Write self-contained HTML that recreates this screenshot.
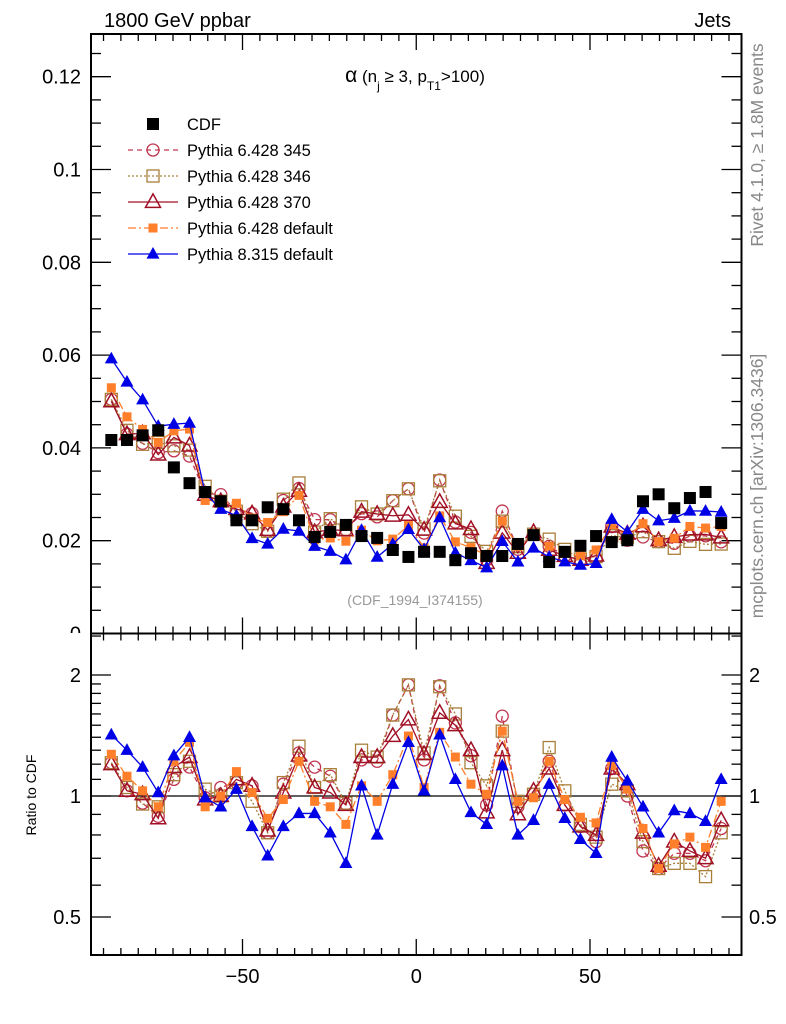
<!DOCTYPE html>
<html><head><meta charset="utf-8"><style>
body{margin:0;background:#fff;}
svg{display:block;font-family:"Liberation Sans",sans-serif;}
</style></head><body>
<svg id="chart" width="786" height="1024" viewBox="0 0 786 1024">
<defs>
<clipPath id="clipMain"><rect x="91" y="34" width="650" height="600"/></clipPath>
<clipPath id="clipRatio"><rect x="91" y="634" width="650" height="321"/></clipPath>
<clipPath id="clipLabels"><rect x="0" y="0" width="91" height="633"/></clipPath>
</defs>
<g id="axes"></g>
<g id="series"></g>
<text x="104" y="27" font-size="20">1800 GeV ppbar</text>
<text x="731" y="27" font-size="20" text-anchor="end">Jets</text>
<text x="415" y="82" font-size="17" text-anchor="middle"><tspan font-size="21">α</tspan> (n<tspan font-size="12" dy="8">j</tspan><tspan dy="-8"> ≥ 3, p</tspan><tspan font-size="12" dy="8">T1</tspan><tspan dy="-8">&gt;100)</tspan></text>
<text x="415" y="605" font-size="14" fill="#999" text-anchor="middle">(CDF_1994_I374155)</text>
<text transform="translate(763,145) rotate(-90)" font-size="17.5" fill="#888" text-anchor="middle">Rivet 4.1.0, ≥ 1.8M events</text>
<text transform="translate(763,486) rotate(-90)" font-size="17.5" fill="#888" text-anchor="middle">mcplots.cern.ch [arXiv:1306.3436]</text>
<text transform="translate(36,795) rotate(-90)" font-size="14" text-anchor="middle">Ratio to CDF</text>
<g id="legend"></g>
</svg>
<script>
const xCenters = [-87.75,-83.25,-78.75,-74.25,-69.75,-65.25,-60.75,-56.25,-51.75,-47.25,-42.75,-38.25,-33.75,-29.25,-24.75,-20.25,-15.75,-11.25,-6.75,-2.25,2.25,6.75,11.25,15.75,20.25,24.75,29.25,33.75,38.25,42.75,47.25,51.75,56.25,60.75,65.25,69.75,74.25,78.75,83.25,87.75];
const cdfValues = [.0417,.0417,.0427,.0438,.0358,.0324,.0305,.0285,.0244,.0244,.0272,.0268,.0244,.0208,.0219,.0234,.0210,.0206,.0180,.0165,.0176,.0176,.0158,.0173,.0167,.0167,.0193,.0212,.0154,.0176,.0189,.0210,.0197,.0201,.0285,.0300,.0270,.0292,.0305,.0238];
const ratio345 = [1.21,1.03,.96,.89,1.10,1.18,.99,1.05,1.08,1.06,.81,1.07,1.28,1.18,1.12,.955,1.23,1.22,1.59,1.89,1.23,1.88,1.52,1.26,.95,1.58,.94,1.01,1.22,.95,.84,.77,1.17,1.0,.73,.66,.72,.72,.69,.83];
const ratio346 = [1.21,1.05,.955,.94,1.13,1.22,1.04,1.0,1.08,.97,.81,1.08,1.33,1.05,1.13,.96,1.30,1.25,1.59,1.89,1.28,1.87,1.60,1.21,1.06,1.45,.97,1.01,1.32,1.03,.85,.79,1.07,1.03,.77,.66,.68,.68,.63,.81];
const ratio370 = [1.20,1.03,1.01,.88,1.18,1.25,.98,1.0,1.10,1.06,.82,1.02,1.26,1.05,1.02,.95,1.25,1.25,1.41,1.55,1.27,1.61,1.50,1.30,.91,1.30,.90,1.03,1.17,.95,.84,.80,1.17,1.07,.81,.67,.77,.73,.70,.87];
const ratioP6def = [1.27,1.12,1.03,.94,1.22,1.36,.94,1.0,1.15,1.02,.88,.98,1.22,.97,.94,.85,1.06,.97,1.13,1.41,1.05,1.44,1.25,1.07,1.01,1.45,.97,.99,1.22,.98,.885,.857,1.19,1.04,.83,.66,.76,.79,.745,.97];
const ratioP8def = [1.42,1.30,1.18,1.02,1.26,1.40,.99,.94,1.04,.84,.71,.84,.905,.905,.81,.68,1.06,.80,1.07,1.36,1.03,1.42,1.10,.91,.85,1.19,.80,.87,1.07,.88,.78,.72,1.25,1.09,.94,.81,.92,.905,.865,1.10];
const mainTicks = [0,0.02,0.04,0.06,0.08,0.1,0.12];
const mainTickLabels = ["0","0.02","0.04","0.06","0.08","0.1","0.12"];
const ratioTicks = [0.5,1,2];
const ratioTickLabels = ["0.5","1","2"];
const xTicks = [-50,0,50];
const xTickLabels = ["\u221250","0","50"];

const NS="http://www.w3.org/2000/svg";
const L=91,R=741.5,T=34,MB=633.5,RB=955;
const X0=-93.6,X1=93.6;
const xs=v=>L+(v-X0)/(X1-X0)*(R-L);
const ym=v=>MB-v*4640;
const yr=v=>796-Math.log2(v)*121;
function mk(tag,attrs,parent){const e=document.createElementNS(NS,tag);for(const k in attrs)e.setAttribute(k,attrs[k]);parent.appendChild(e);return e;}
const ax=document.getElementById('axes');
let f1=mk('rect',{x:L,y:T,width:R-L,height:MB-T,fill:'none',stroke:'#000','stroke-width':2},ax);


let f2=mk('rect',{x:L,y:MB,width:R-L,height:RB-MB,fill:'none',stroke:'#000','stroke-width':2},ax);


for(let v=-90;v<=90;v+=5){const major=v%50===0;const len=major?16:7;const x=xs(v);
 mk('line',{x1:x,x2:x,y1:RB,y2:RB-len,stroke:'#000','stroke-width':1.3},ax);
 mk('line',{x1:x,x2:x,y1:T,y2:T+len,stroke:'#000','stroke-width':1.3},ax);
 mk('line',{x1:x,x2:x,y1:MB,y2:MB-len,stroke:'#000','stroke-width':1.3},ax);
 mk('line',{x1:x,x2:x,y1:MB,y2:MB+len,stroke:'#000','stroke-width':1.3},ax);}
xTicks.forEach((v,i)=>{const t=mk('text',{x:xs(v),y:983,'font-size':20,'text-anchor':'middle'},ax);t.textContent=xTickLabels[i];
 
 });
for(let k=0;k<=25;k++){const v=k*0.005;const y=ym(v);if(y<T)break;const major=k%4===0;const len=major?20:10;
 mk('line',{x1:L,x2:L+len,y1:y,y2:y,stroke:'#000','stroke-width':1.3},ax);
 mk('line',{x1:R,x2:R-len,y1:y,y2:y,stroke:'#000','stroke-width':1.3},ax);}
const lblG=mk('g',{'clip-path':'url(#clipLabels)'},ax);
mainTicks.forEach((v,i)=>{const t=mk('text',{x:81,y:ym(v)+7,'font-size':20,'text-anchor':'end'},lblG);t.textContent=mainTickLabels[i];
 
 });
[0.5,0.6,0.7,0.8,0.9,1,1.1,1.2,1.3,1.4,1.5,1.6,1.7,1.8,1.9,2,2.5].forEach(v=>{const y=yr(v);if(y<MB||y>RB)return;const major=(v===0.5||v===1||v===2);const len=major?20:10;
 mk('line',{x1:L,x2:L+len,y1:y,y2:y,stroke:'#000','stroke-width':1.3},ax);
 mk('line',{x1:R,x2:R-len,y1:y,y2:y,stroke:'#000','stroke-width':1.3},ax);});
ratioTicks.forEach((v,i)=>{const t=mk('text',{x:81,y:yr(v)+7,'font-size':20,'text-anchor':'end'},ax);t.textContent=ratioTickLabels[i];
 
 
 const t2=mk('text',{x:749,y:yr(v)+7,'font-size':20},ax);t2.textContent=ratioTickLabels[i];
 
 });
const one=mk('line',{x1:L,x2:R,y1:yr(1),y2:yr(1),stroke:'#000','stroke-width':1.3},ax);



function marker(g,kind,x,y,color,s){
 if(kind==='fsq')return mk('rect',{x:x-s/2,y:y-s/2,width:s,height:s,fill:color},g);
 if(kind==='osq')return mk('rect',{x:x-s/2,y:y-s/2,width:s,height:s,fill:'none',stroke:color,'stroke-width':1.3},g);
 if(kind==='circ')return mk('circle',{cx:x,cy:y,r:s/2,fill:'none',stroke:color,'stroke-width':1.3},g);
 const h=s*0.9;const pts=`${x},${y-h*0.6} ${x-s/2},${y+h*0.4} ${x+s/2},${y+h*0.4}`;
 if(kind==='otri')return mk('polygon',{points:pts,fill:'none',stroke:color,'stroke-width':1.5},g);
 return mk('polygon',{points:pts,fill:color},g);}

const series=[
 {name:'pythia-6428-345',label:'Pythia 6.428 345',r:ratio345,color:'#c0364f',dash:'5,4',kind:'circ',s:12},
 {name:'pythia-6428-346',label:'Pythia 6.428 346',r:ratio346,color:'#a8803a',dash:'2,2',kind:'osq',s:12},
 {name:'pythia-6428-370',label:'Pythia 6.428 370',r:ratio370,color:'#a01025',dash:'',kind:'otri',s:15},
 {name:'pythia-6428-default',label:'Pythia 6.428 default',r:ratioP6def,color:'#ff7f2a',dash:'8,3,2,3',kind:'fsq',s:9},
 {name:'pythia-8315-default',label:'Pythia 8.315 default',r:ratioP8def,color:'#0000e6',dash:'',kind:'ftri',s:13}];
const sg=document.getElementById('series');
series.forEach(S=>{
 const gm=mk('g',{'clip-path':'url(#clipMain)'},sg);
 
 
 const gr=mk('g',{'clip-path':'url(#clipRatio)'},sg);
 
 
 const vals=S.r.map((r,i)=>r*cdfValues[i]);
 const pm=xCenters.map((x,i)=>xs(x)+','+ym(vals[i])).join(' ');
 const pr=xCenters.map((x,i)=>xs(x)+','+yr(vals[i]/cdfValues[i])).join(' ');
 const a={fill:'none',stroke:S.color,'stroke-width':1.3};if(S.dash)a['stroke-dasharray']=S.dash;
 mk('polyline',Object.assign({points:pm},a),gm);
 mk('polyline',Object.assign({points:pr},a),gr);
 xCenters.forEach((x,i)=>{
  const p=marker(gm,S.kind,xs(x),ym(vals[i]),S.color,S.s);
  
  
  const q=marker(gr,S.kind,xs(x),yr(vals[i]/cdfValues[i]),S.color,S.s);
  
  });
});
const gc=mk('g',{'clip-path':'url(#clipMain)'},sg);


xCenters.forEach((x,i)=>{const p=marker(gc,'fsq',xs(x),ym(cdfValues[i]),'#000',12);
 
 });
const lg=document.getElementById('legend');
const e0=marker(lg,'fsq',153,124,'#000',12);


const t0=mk('text',{x:187,y:130,'font-size':16.5},lg);t0.textContent='CDF';


series.forEach((S,k)=>{const y=150+k*26;
 const a={x1:128,x2:178,y1:y,y2:y,stroke:S.color,'stroke-width':1.3};if(S.dash)a['stroke-dasharray']=S.dash;
 mk('line',a,lg);
 const m=marker(lg,S.kind,153,y,S.color,S.s);
 
 
 const t=mk('text',{x:187,y:y+6,'font-size':16.5},lg);t.textContent=S.label;
 
 });
</script>
</body></html>
